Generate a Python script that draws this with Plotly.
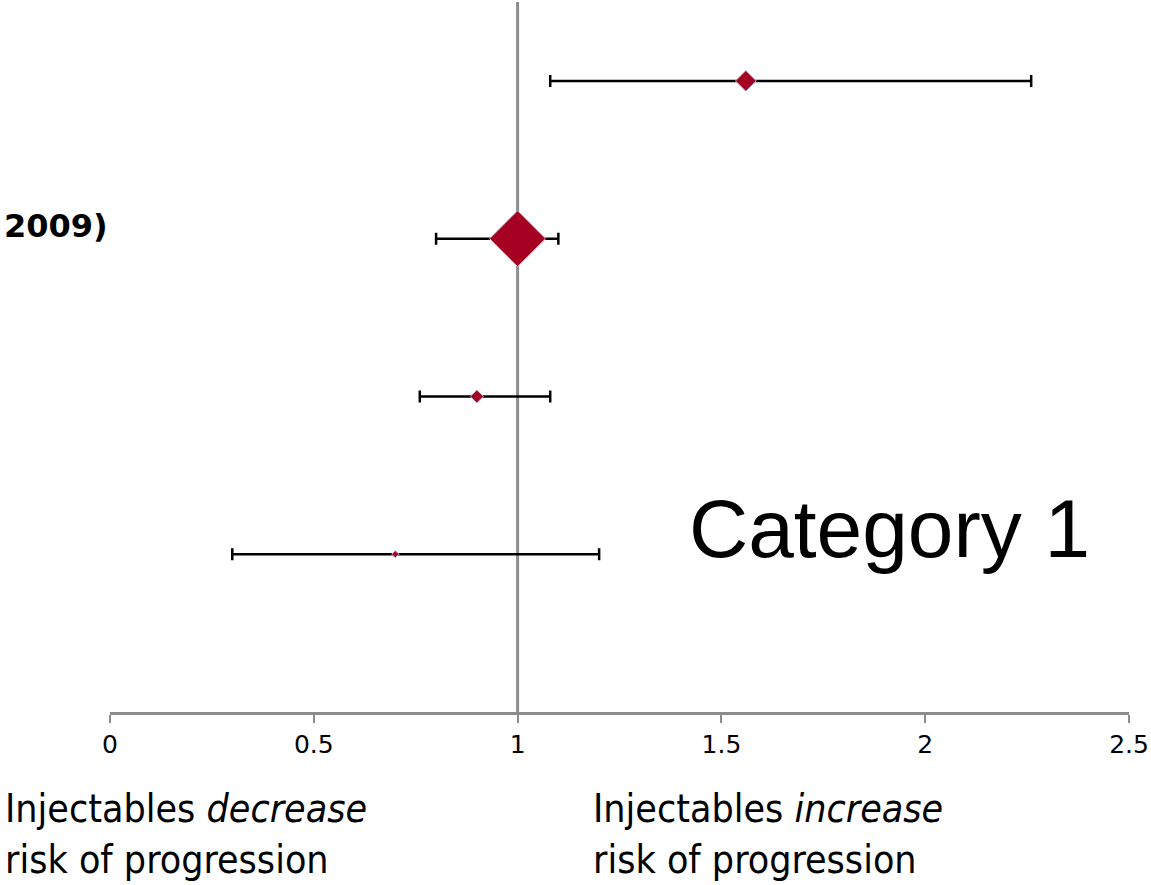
import plotly.graph_objects as go

# Data
rows = [4, 3, 2, 1]
estimates = [1.56, 1.00, 0.90, 0.70]
ci_low = [1.08, 0.80, 0.76, 0.30]
ci_high = [2.26, 1.10, 1.08, 1.20]
marker_sizes = [16, 43, 10, 5.5]
tick_vals = [0, 0.5, 1, 1.5, 2, 2.5]
tick_text = ["0", "0.5", "1", "1.5", "2", "2.5"]

err_plus = [h - e for h, e in zip(ci_high, estimates)]
err_minus = [e - l for e, l in zip(estimates, ci_low)]

fig = go.Figure()

# reference line at 1
fig.add_shape(type="line", x0=1, x1=1, y0=0, y1=4.5, xref="x", yref="y",
              line=dict(color="#8c8c8c", width=3), layer="below")

fig.add_trace(go.Scatter(
    x=estimates, y=rows, mode="markers",
    marker=dict(symbol="diamond", size=marker_sizes, color="#A50021", opacity=1,
                line=dict(color="#b0b8c8", width=1)),
    error_x=dict(type="data", symmetric=False, array=err_plus, arrayminus=err_minus,
                 color="black", thickness=2.5, width=6),
    showlegend=False, hoverinfo="skip", cliponaxis=False,
))

fig.update_xaxes(range=[0, 2.5], tickvals=tick_vals, ticktext=tick_text,
                 showgrid=False, zeroline=False, showline=True,
                 linecolor="#8c8c8c", linewidth=2.5, ticks="outside",
                 ticklen=8, tickwidth=2, tickcolor="#8c8c8c",
                 tickfont=dict(family="DejaVu Sans", size=25, color="black"),
                 fixedrange=True)
fig.update_yaxes(range=[0, 4.5], visible=False, showgrid=False, zeroline=False,
                 fixedrange=True)

fig.add_annotation(text="Category 1", xref="paper", yref="paper",
                   x=(1092 - 110) / 1019, y=(712 - 528) / 710,
                   xanchor="right", yanchor="middle", showarrow=False,
                   font=dict(family="Liberation Sans, Arial", size=82, color="black"))

fig.add_annotation(text="<b>2009)</b>", xref="paper", yref="paper",
                   x=(110 - 110) / 1019, y=(712 - 226) / 710,
                   xanchor="right", yanchor="middle", showarrow=False,
                   font=dict(family="DejaVu Sans", size=32, color="black"))

fig.add_annotation(text="Injectables <i>decrease</i><br>risk of progression",
                   xref="paper", yref="paper",
                   x=(3 - 110) / 1019, y=(712 - 784) / 710,
                   xanchor="left", yanchor="top", align="left", showarrow=False,
                   font=dict(family="DejaVu Sans Condensed, DejaVu Sans", size=39, color="black"))

fig.add_annotation(text="Injectables <i>increase</i><br>risk of progression",
                   xref="paper", yref="paper",
                   x=(591 - 110) / 1019, y=(712 - 784) / 710,
                   xanchor="left", yanchor="top", align="left", showarrow=False,
                   font=dict(family="DejaVu Sans Condensed, DejaVu Sans", size=39, color="black"))

fig.update_layout(width=1151, height=885, margin=dict(l=110, r=22, t=2, b=173),
                  paper_bgcolor="white", plot_bgcolor="white")

fig.write_html("out.html", config={"displayModeBar": False},
               post_script="document.body.style.margin='0';")
